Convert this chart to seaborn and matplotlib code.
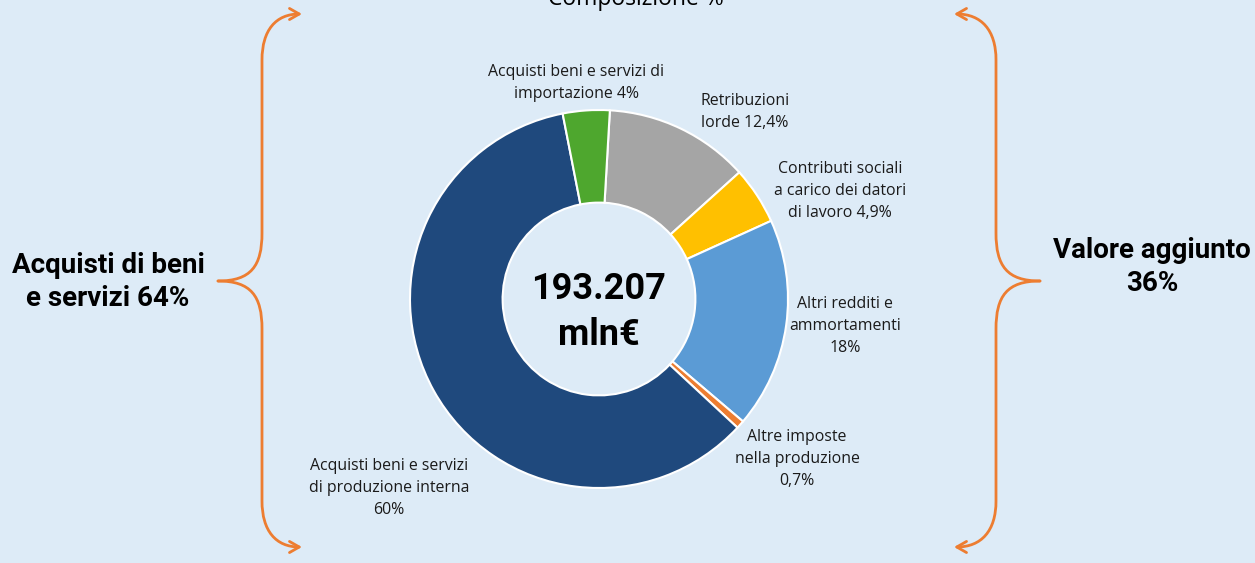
import matplotlib
matplotlib.use("Agg")
import matplotlib.pyplot as plt
import seaborn as sns
from matplotlib.path import Path
from matplotlib.patches import FancyArrowPatch

# ---- data ----
categories = ["Retribuzioni lorde", "Contributi sociali a carico dei datori di lavoro",
              "Altri redditi e ammortamenti", "Altre imposte nella produzione",
              "Acquisti beni e servizi di produzione interna",
              "Acquisti beni e servizi di importazione"]
values = [12.4, 4.9, 18.0, 0.7, 60.0, 4.0]
labels = ["Retribuzioni\nlorde 12,4%",
          "Contributi sociali\na carico dei datori\ndi lavoro 4,9%",
          "Altri redditi e\nammortamenti\n18%",
          "Altre imposte\nnella produzione\n0,7%",
          "Acquisti beni e servizi\ndi produzione interna\n60%",
          "Acquisti beni e servizi di\nimportazione 4%"]
total_text = "193.207\nmln€"
title = "Composizione %"
left_group = "Acquisti di beni\ne servizi 64%"
right_group = "Valore aggiunto\n36%"

colors = ["#A5A5A5", "#FFC000", "#5B9BD5", "#ED7D31", "#1F497D", "#4EA72E"]
bg = "#DDEBF7"
brace_col = "#ED7D31"

sns.set_style("white")
plt.rcParams["font.family"] = ["Open Sans", "DejaVu Sans"]

W, H = 1255, 563
fig = plt.figure(figsize=(W / 100, H / 100), dpi=100)
fig.patch.set_facecolor(bg)

# overlay axes in pixel coords
ov = fig.add_axes([0, 0, 1, 1])
ov.set_xlim(0, W)
ov.set_ylim(H, 0)
ov.axis("off")
ov.patch.set_alpha(0)

# donut axes
cx, cy, R = 599, 299, 189
ax = fig.add_axes([(cx - R) / W, (H - cy - R) / H, 2 * R / W, 2 * R / H])
ax.set_facecolor(bg)
ax.pie(values, colors=colors, startangle=86.7, counterclock=False, radius=1,
       wedgeprops=dict(width=0.49, edgecolor="white", linewidth=1.5))
ax.set_xlim(-1, 1)
ax.set_ylim(-1, 1)
ax.set_aspect("equal")
ax.axis("off")
ax.text(0, -0.07, total_text, ha="center", va="center", fontsize=26,
        fontweight="bold", family=["Roboto", "DejaVu Sans"], linespacing=1.35, color="black")

# title (cut at top)
ov.text(636, 5, title, ha="center", va="baseline", fontsize=16.5, color="black")

# slice labels (pixel positions)
label_pos = [(745, 112), (840, 191), (845, 326), (797, 459), (389, 488), (576, 83)]
for lab, (x, y) in zip(labels, label_pos):
    ov.text(x, y, lab, ha="center", va="center", fontsize=11.4,
            color="#1a1a1a", linespacing=1.47)

# group labels
ov.text(108, 282, left_group, ha="center", va="center", fontsize=20,
        fontweight="bold", family=["Roboto", "DejaVu Sans"], linespacing=1.3, color="black")
ov.text(1152, 267, right_group, ha="center", va="center", fontsize=20,
        fontweight="bold", family=["Roboto", "DejaVu Sans"], linespacing=1.3, color="black")


def brace_half(tipx, tipy, vx, endx, endy):
    d = 1 if endy > tipy else -1
    verts = [(tipx, tipy),
             (vx - (vx - tipx) * 0.25, tipy), (vx, tipy + d * 15), (vx, tipy + d * 48),
             (vx, endy - d * 46),
             (vx, endy - d * 16), (vx + (endx - vx) * 0.35, endy), (endx, endy)]
    codes = [Path.MOVETO, Path.CURVE4, Path.CURVE4, Path.CURVE4,
             Path.LINETO, Path.CURVE4, Path.CURVE4, Path.CURVE4]
    p = FancyArrowPatch(path=Path(verts, codes), arrowstyle="->,head_length=7,head_width=4",
                        color=brace_col, lw=2.0, mutation_scale=1)
    ov.add_patch(p)


brace_half(218, 281, 262, 302, 14)
brace_half(218, 281, 262, 302, 547)
brace_half(1040, 281, 996, 954, 14)
brace_half(1040, 281, 996, 954, 547)

fig.savefig("out.png", dpi=100, facecolor=bg)
